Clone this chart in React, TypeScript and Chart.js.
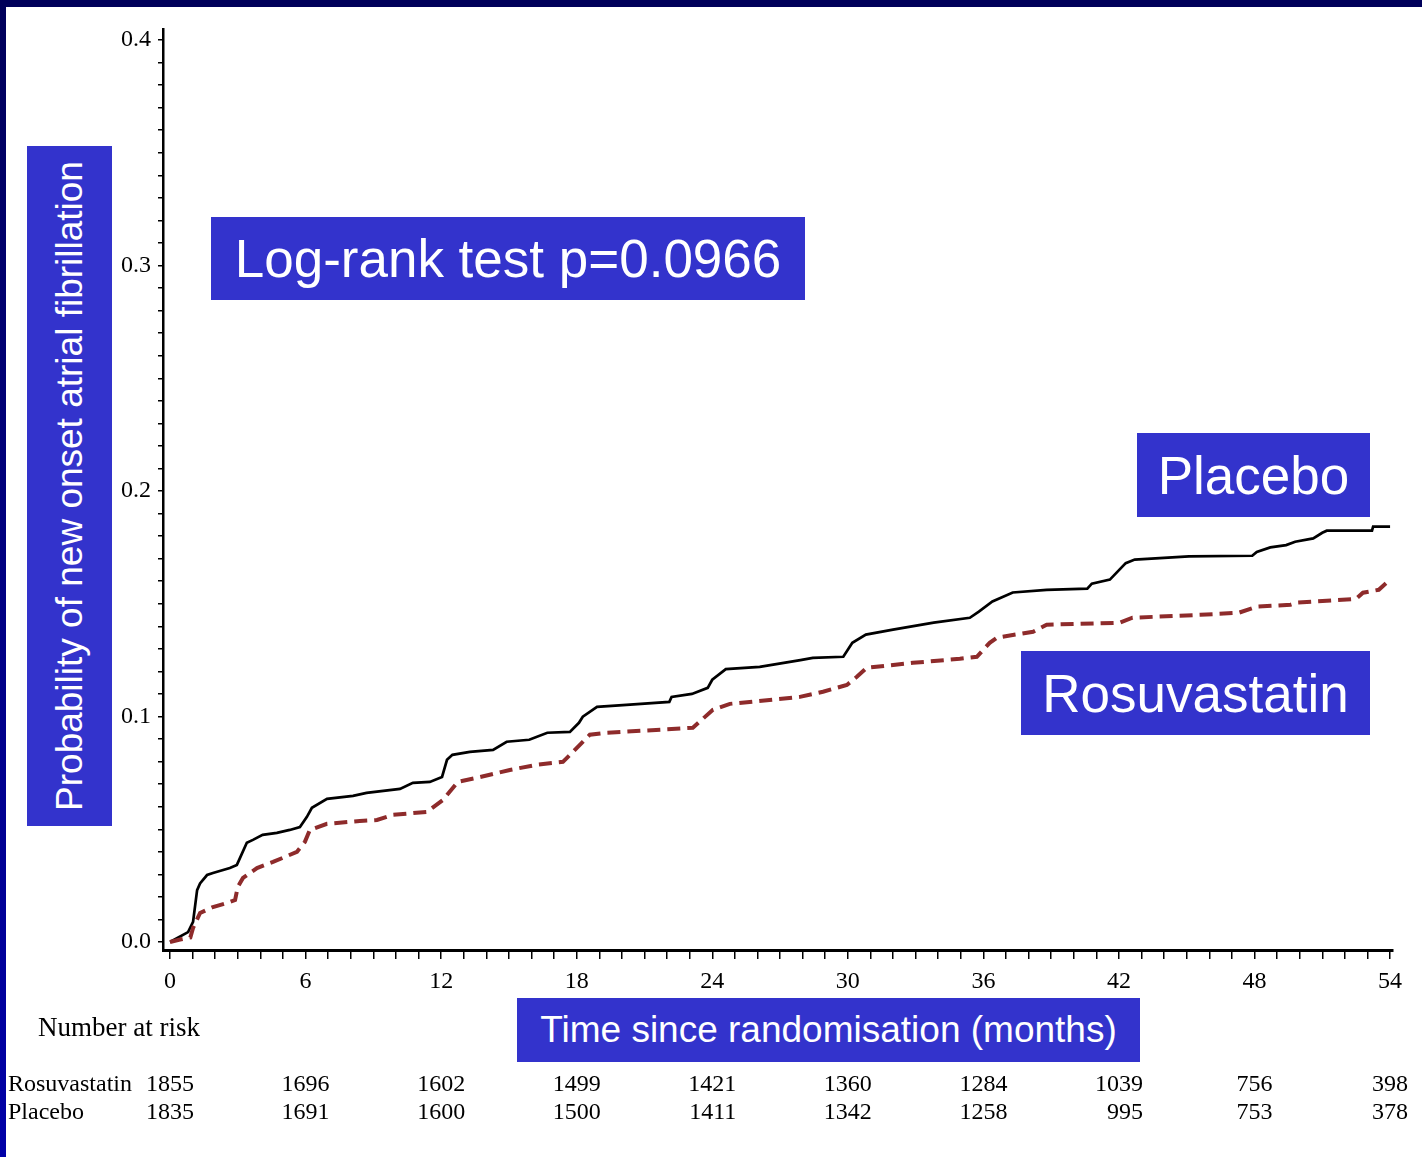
import React, { useEffect, useRef } from "react";
import { Chart, registerables } from "chart.js";

Chart.register(...registerables);

// Kaplan-Meier style cumulative probability of new onset AF
const placeboTime = [0, 0.8, 1.02, 1.2, 1.33, 1.64, 1.9, 2.65, 2.96, 3.4, 3.67, 4.1, 4.73, 5.3, 5.75, 6.06, 6.28, 6.95, 8.1, 8.7, 10.18, 10.75, 11.5, 12.04, 12.26, 12.5, 13.27, 14.3, 14.9, 15.9, 16.7, 17.7, 18.1, 18.27, 18.9, 20.2, 22.1, 22.2, 23.1, 23.8, 24.0, 24.6, 26.1, 27.9, 28.45, 29.8, 30.2, 30.8, 32.0, 33.8, 35.4, 35.8, 36.4, 37.3, 38.8, 40.6, 40.8, 41.6, 42.3, 42.7, 45.1, 47.9, 48.1, 48.7, 49.4, 49.8, 50.6, 51.0, 51.2, 53.2, 53.25, 54];
const placeboProb = [0, 0.0044, 0.0089, 0.023, 0.026, 0.0297, 0.0306, 0.0328, 0.0342, 0.044, 0.0453, 0.0475, 0.0484, 0.0497, 0.051, 0.0555, 0.0595, 0.0635, 0.0648, 0.0661, 0.0679, 0.0706, 0.071, 0.0732, 0.0808, 0.083, 0.0843, 0.0852, 0.0888, 0.0897, 0.0928, 0.0932, 0.0972, 0.0999, 0.1043, 0.1052, 0.1065, 0.1087, 0.11, 0.1127, 0.1163, 0.121, 0.122, 0.125, 0.126, 0.1265, 0.1327, 0.1363, 0.1385, 0.1416, 0.1438, 0.1465, 0.151, 0.155, 0.1562, 0.1567, 0.1589, 0.1607, 0.168, 0.1696, 0.171, 0.1713, 0.173, 0.175, 0.176, 0.1775, 0.179, 0.1815, 0.1824, 0.1824, 0.1842, 0.1842];

const rosuTime = [0, 0.4, 0.9, 1.02, 1.33, 1.9, 2.52, 2.88, 3.0, 3.23, 3.85, 4.56, 5.62, 5.97, 6.19, 6.95, 8.4, 9.16, 9.87, 11.37, 12.08, 12.74, 13.58, 15.04, 16.24, 17.39, 17.83, 18.58, 19.34, 23.14, 24.03, 24.78, 27.88, 28.9, 29.96, 30.4, 30.84, 32.88, 34.96, 35.71, 36.28, 36.6, 38.2, 38.8, 42.04, 42.6, 45.6, 47.3, 48.1, 49.6, 49.9, 52.5, 52.8, 53.5, 54];
const rosuProb = [0, 0.001, 0.002, 0.0062, 0.0129, 0.0155, 0.0173, 0.0186, 0.0244, 0.0284, 0.0328, 0.0355, 0.04, 0.0444, 0.0497, 0.0524, 0.0537, 0.0541, 0.0564, 0.0577, 0.063, 0.071, 0.0728, 0.0763, 0.0786, 0.0799, 0.0843, 0.0919, 0.0928, 0.095, 0.103, 0.1056, 0.1087, 0.111, 0.114, 0.1176, 0.1216, 0.1238, 0.1256, 0.1265, 0.1327, 0.135, 0.1376, 0.1407, 0.1416, 0.1438, 0.1451, 0.146, 0.1487, 0.1496, 0.1505, 0.1522, 0.1549, 0.1562, 0.1607];

// Number at risk table
const riskTimes = [0, 6, 12, 18, 24, 30, 36, 42, 48, 54];
const rosuRisk = [1855, 1696, 1602, 1499, 1421, 1360, 1284, 1039, 756, 398];
const placeboRisk = [1835, 1691, 1600, 1500, 1411, 1342, 1258, 995, 753, 378];

// Axis ticks
const xTickValues = Array.from({ length: 55 }, (_, i) => i); // every month 0..54
const xLabelEvery = 6;
const yTickValues = Array.from({ length: 41 }, (_, i) => i / 100); // every 0.01, 0..0.40

const SERIF = "'Liberation Serif', 'Times New Roman', serif";
const SANS = "'Liberation Sans', Arial, sans-serif";
const BLUE = "#3333cc";

const boxBase: React.CSSProperties = {
  position: "absolute",
  background: BLUE,
  color: "#fff",
  fontFamily: SANS,
  display: "flex",
  alignItems: "center",
  justifyContent: "center",
  whiteSpace: "nowrap",
};

export default function App() {
  const ref = useRef<HTMLCanvasElement>(null);

  useEffect(() => {
    document.body.style.margin = "0";
    const canvas = ref.current;
    if (!canvas) return;

    const framePlugin = {
      id: "frameAndTable",
      beforeDraw(chart: any) {
        const c = chart.ctx;
        c.save();
        c.fillStyle = "#ffffff";
        c.fillRect(0, 0, chart.width, chart.height);
        c.fillStyle = "#00005a";
        c.fillRect(0, 0, chart.width, 7);
        const g = c.createLinearGradient(0, 0, 0, chart.height);
        g.addColorStop(0, "#00005a");
        g.addColorStop(1, "#0000a8");
        c.fillStyle = g;
        c.fillRect(0, 0, 6, chart.height);
        c.restore();
      },
      afterDraw(chart: any) {
        const c = chart.ctx;
        const xs = chart.scales.x;
        c.save();
        c.fillStyle = "#000";
        c.textBaseline = "middle";
        c.textAlign = "left";
        c.font = `27px ${SERIF}`;
        c.fillText("Number at risk", 38, 1029);
        c.font = `24px ${SERIF}`;
        c.fillText("Rosuvastatin", 8, 1085);
        c.fillText("Placebo", 8, 1113);
        riskTimes.forEach((t, i) => {
          const px = xs.getPixelForValue(t);
          const a = String(rosuRisk[i]);
          const b = String(placeboRisk[i]);
          const w = Math.max(c.measureText(a).width, c.measureText(b).width);
          c.textAlign = "right";
          c.fillText(a, px + w / 2, 1085);
          c.fillText(b, px + w / 2, 1113);
        });
        c.restore();
      },
    };

    const chart = new Chart(canvas, {
      type: "line",
      data: {
        datasets: [
          {
            label: "Rosuvastatin",
            data: rosuTime.map((t, i) => ({ x: t, y: rosuProb[i] })),
            borderColor: "#8e2b2b",
            borderWidth: 4,
            borderDash: [13, 7],
            pointRadius: 0,
            tension: 0,
            fill: false,
          },
          {
            label: "Placebo",
            data: placeboTime.map((t, i) => ({ x: t, y: placeboProb[i] })),
            borderColor: "#000000",
            borderWidth: 2.7,
            pointRadius: 0,
            tension: 0,
            fill: false,
          },
        ],
      },
      options: {
        responsive: false,
        animation: false,
        layout: { padding: { left: 0, top: 29, right: 29, bottom: 157 } },
        plugins: {
          legend: { display: false },
          tooltip: { enabled: false },
          title: { display: false },
        },
        scales: {
          x: {
            type: "linear",
            min: -0.31,
            max: 54.13,
            afterBuildTicks: (s: any) => {
              s.ticks = xTickValues.map((v) => ({ value: v }));
            },
            afterFit: (s: any) => {
              s.height = 50;
            },
            ticks: {
              autoSkip: false,
              maxRotation: 0,
              minRotation: 0,
              padding: 8,
              color: "#000",
              font: { family: SERIF, size: 24 },
              callback: (v: any) => (Math.round(v) % xLabelEvery === 0 ? String(Math.round(v)) : ""),
            },
            grid: {
              drawOnChartArea: false,
              drawTicks: true,
              tickLength: 9,
              color: "#000",
              lineWidth: 1.5,
            },
            border: { display: true, color: "#000", width: 3 },
          },
          y: {
            type: "linear",
            min: -0.00355,
            max: 0.4049,
            afterBuildTicks: (s: any) => {
              s.ticks = yTickValues.map((v) => ({ value: v }));
            },
            afterFit: (s: any) => {
              s.width = 163;
            },
            ticks: {
              autoSkip: false,
              padding: 7,
              color: "#000",
              font: { family: SERIF, size: 24 },
              callback: (v: any) => {
                const k = Math.round(v * 100);
                return k % 10 === 0 ? (k / 100).toFixed(1) : "";
              },
            },
            grid: {
              drawOnChartArea: false,
              drawTicks: true,
              tickLength: 5,
              color: "#000",
              lineWidth: 1.5,
            },
            border: { display: true, color: "#000", width: 2.5 },
          },
        },
      },
      plugins: [framePlugin],
    } as any);

    return () => chart.destroy();
  }, []);

  return (
    <div style={{ position: "absolute", left: 0, top: 0, width: 1422, height: 1157, overflow: "hidden" }}>
      <canvas ref={ref} width={1422} height={1157} style={{ display: "block", width: 1422, height: 1157 }} />
      <div style={{ ...boxBase, left: 27, top: 146, width: 85, height: 680, fontSize: 37 }}>
        <div style={{ transform: "rotate(-90deg)" }}>Probability of new onset atrial fibrillation</div>
      </div>
      <div style={{ ...boxBase, left: 211, top: 217, width: 594, height: 83, fontSize: 53 }}>
        Log-rank test p=0.0966
      </div>
      <div style={{ ...boxBase, left: 1137, top: 433, width: 233, height: 84, fontSize: 53 }}>Placebo</div>
      <div style={{ ...boxBase, left: 1021, top: 651, width: 349, height: 84, fontSize: 53 }}>Rosuvastatin</div>
      <div style={{ ...boxBase, left: 517, top: 998, width: 623, height: 64, fontSize: 37 }}>
        Time since randomisation (months)
      </div>
    </div>
  );
}
